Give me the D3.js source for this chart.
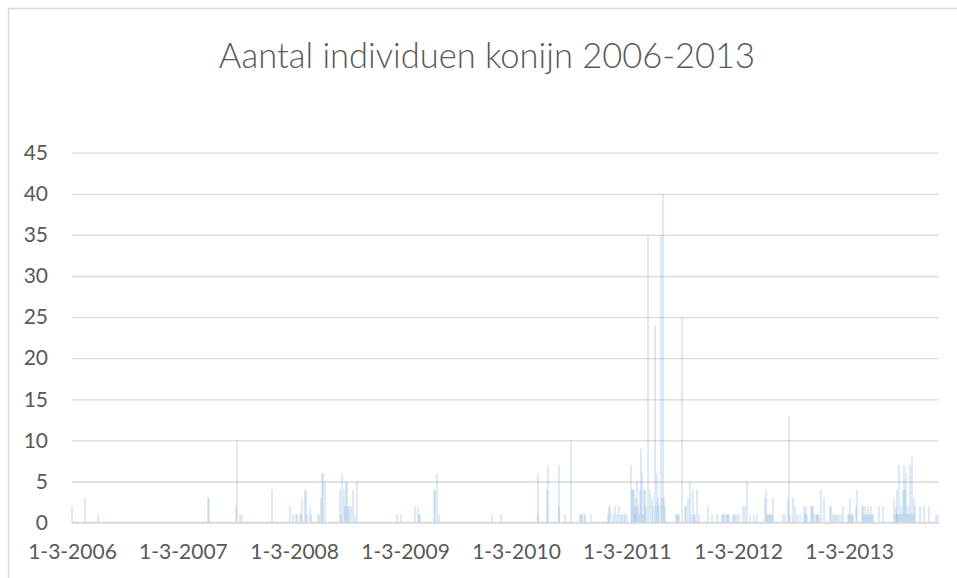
<!DOCTYPE html>
<html>
<head>
<meta charset="utf-8">
<script src="https://cdn.jsdelivr.net/npm/d3@7"></script>
<style>
  html, body { margin: 0; padding: 0; background: #ffffff; }
  svg { display: block; }
</style>
</head>
<body>
<svg id="chart" width="957" height="578"></svg>
<script>
const title = "Aantal individuen konijn 2006-2013";

// Observation dates (daily)
const dates = [
  "2006-03-01","2006-04-14","2006-05-25",
  "2007-05-24","2007-05-26","2007-08-24","2007-08-27","2007-09-06","2007-09-12","2007-12-20",
  "2008-02-15","2008-02-27","2008-03-06","2008-03-09","2008-03-19","2008-03-22","2008-03-28","2008-04-07","2008-04-10","2008-04-11",
  "2008-04-22","2008-04-26","2008-05-19","2008-05-22","2008-05-28","2008-06-01","2008-06-04","2008-06-11","2008-07-31","2008-08-02",
  "2008-08-07","2008-08-13","2008-08-14","2008-08-20","2008-08-23","2008-08-26","2008-08-30","2008-09-03","2008-09-12","2008-09-18","2008-09-25",
  "2009-02-01","2009-02-17","2009-04-03","2009-04-13","2009-04-17","2009-04-20","2009-06-05","2009-06-08","2009-06-15","2009-06-21","2009-12-13",
  "2010-01-11","2010-05-11","2010-05-14","2010-06-12","2010-06-15","2010-07-19","2010-07-20","2010-08-10","2010-08-30","2010-09-29",
  "2010-10-02","2010-10-05","2010-10-12","2010-10-15","2010-11-03","2010-12-29",
  "2011-01-02","2011-01-05","2011-01-15","2011-01-22","2011-01-28","2011-02-04","2011-02-10","2011-02-14","2011-02-20","2011-02-23",
  "2011-03-02","2011-03-15","2011-03-18","2011-03-22","2011-03-25","2011-03-26","2011-03-28","2011-04-01","2011-04-04","2011-04-07",
  "2011-04-11","2011-04-14","2011-04-17","2011-04-21","2011-04-24","2011-04-27","2011-05-01","2011-05-04","2011-05-10","2011-05-17",
  "2011-05-24","2011-05-27","2011-06-02","2011-06-06","2011-06-09","2011-06-12","2011-06-15","2011-06-22","2011-06-23","2011-06-29",
  "2011-07-02","2011-07-05","2011-08-10","2011-08-13","2011-08-16","2011-08-20","2011-08-30","2011-09-09","2011-09-12","2011-09-18",
  "2011-09-25","2011-09-28","2011-10-05","2011-10-08","2011-10-12","2011-10-18","2011-10-25","2011-11-23","2011-12-06","2011-12-23",
  "2012-01-08","2012-01-12","2012-01-15","2012-01-22","2012-01-25","2012-01-29","2012-02-01","2012-02-14","2012-02-17","2012-02-21",
  "2012-02-27","2012-03-05","2012-03-18","2012-03-25","2012-03-31","2012-04-10","2012-04-23","2012-05-03","2012-05-29","2012-06-02",
  "2012-06-05","2012-06-08","2012-06-11","2012-06-15","2012-06-18","2012-06-21","2012-06-24","2012-07-27","2012-08-03","2012-08-13",
  "2012-08-16","2012-08-20","2012-08-30","2012-09-05","2012-09-12","2012-09-22","2012-10-05","2012-10-08","2012-10-11","2012-10-14",
  "2012-10-28","2012-10-31","2012-11-03","2012-11-06","2012-11-13","2012-11-16","2012-11-20","2012-11-23","2012-11-30","2012-12-09","2012-12-29",
  "2013-01-01","2013-01-08","2013-01-11","2013-01-18","2013-01-21","2013-01-28","2013-02-03","2013-02-10","2013-02-26","2013-03-01",
  "2013-03-05","2013-03-08","2013-03-11","2013-03-15","2013-03-25","2013-03-28","2013-04-13","2013-04-17","2013-04-20","2013-04-23",
  "2013-04-27","2013-04-30","2013-05-03","2013-05-07","2013-05-10","2013-05-13","2013-05-16","2013-05-20","2013-06-08","2013-06-21",
  "2013-07-28","2013-07-31","2013-08-03","2013-08-05","2013-08-07","2013-08-10","2013-08-13","2013-08-16","2013-08-20","2013-08-23",
  "2013-08-27","2013-08-30","2013-09-02","2013-09-05","2013-09-08","2013-09-12","2013-09-15","2013-09-18","2013-09-22","2013-09-25",
  "2013-09-28","2013-10-02","2013-10-05","2013-10-21","2013-11-04","2013-11-20","2013-12-13","2013-12-20"
];

// Number of individuals per date
const counts = [
  2,3,1,
  3,3,2,10,1,1,4,
  2,1,1,1,1,1,3,4,4,1,
  2,1,1,1,3,6,6,5,4,1,
  6,4,2,5,5,2,2,2,4,1,5,
  1,1,2,2,1,1,4,4,6,1,1,
  1,6,1,4,7,7,2,1,10,1,
  1,1,1,1,1,1,
  2,2,1,2,1,2,1,1,1,1,
  1,7,4,4,4,2,1,3,5,2,
  1,4,9,6,1,4,4,2,35,4,
  3,2,24,2,6,3,2,35,3,40,
  3,2,1,1,1,1,25,2,2,3,
  5,1,4,1,1,4,1,2,1,1,
  1,1,1,1,1,1,1,1,1,1,
  1,1,2,2,5,1,1,1,3,4,
  1,1,1,1,1,1,3,1,1,3,
  13,1,3,2,1,1,2,1,2,1,
  2,2,2,1,1,1,1,1,4,3,2,
  2,1,1,1,1,1,1,2,1,1,
  3,1,1,1,2,4,2,2,1,2,
  1,1,2,1,1,2,1,1,2,2,
  3,1,2,1,4,1,7,1,2,1,
  4,7,4,6,1,2,1,7,1,8,
  1,3,2,2,2,2,1,1
];

const yTicks = [0, 5, 10, 15, 20, 25, 30, 35, 40, 45];
const xTickLabels = ["1-3-2006","1-3-2007","1-3-2008","1-3-2009","1-3-2010","1-3-2011","1-3-2012","1-3-2013"];
const axisStart = "2006-03-01";
const axisEnd = "2013-12-21";

const parse = d3.utcParse("%Y-%m-%d");
const parseLabel = d3.utcParse("%d-%m-%Y");
const fmt = d3.utcFormat("%-d-%-m-%Y");

const data = dates.map((d, i) => ({ date: parse(d), value: counts[i] }));

const svg = d3.select("#chart");
const textColor = "#595959";
const gridColor = "#d9d9d9";
const fontFamily = "Lato, 'Open Sans', sans-serif";

// chart frame
svg.append("rect")
  .attr("x", 8.5).attr("y", 8.5)
  .attr("width", 1000).attr("height", 1000)
  .attr("fill", "#ffffff")
  .attr("stroke", gridColor).attr("stroke-width", 1.5);

const plotLeft = 72, plotRight = 938.7, plotTop = 152.7, plotBottom = 522.6;

const x = d3.scaleUtc().domain([parse(axisStart), parse(axisEnd)]).range([plotLeft, plotRight]);
const y = d3.scaleLinear().domain([0, 45]).range([plotBottom, plotTop]);

// title
svg.append("text")
  .attr("x", 487).attr("y", 68)
  .attr("text-anchor", "middle")
  .attr("font-family", fontFamily)
  .attr("font-weight", 300)
  .attr("font-size", 34.5)
  .attr("fill", textColor)
  .text(title);

// y axis (gridlines + labels)
const yAxis = d3.axisLeft(y)
  .tickValues(yTicks)
  .tickSize(-(plotRight - plotLeft))
  .tickPadding(24)
  .tickFormat(d3.format("d"));

const gy = svg.append("g")
  .attr("transform", `translate(${plotLeft},0)`)
  .call(yAxis);
gy.select(".domain").remove();
gy.selectAll(".tick line").attr("stroke", gridColor).attr("stroke-width", 1.3);
gy.selectAll(".tick text")
  .attr("font-family", fontFamily)
  .attr("font-size", 21)
  .attr("fill", textColor);

// bars
svg.append("g")
  .selectAll("rect")
  .data(data)
  .join("rect")
  .attr("x", d => Math.round(x(d.date)) - 0.5)
  .attr("width", 1)
  .attr("y", d => y(d.value))
  .attr("height", d => y(0) - y(d.value))
  .attr("fill", "#5b9bd5")
  .attr("fill-opacity", 0.42);

// x axis
const xAxis = d3.axisBottom(x)
  .tickValues(xTickLabels.map(s => parseLabel(s)))
  .tickSize(0)
  .tickPadding(21)
  .tickFormat(fmt);

const gx = svg.append("g")
  .attr("transform", `translate(0,${plotBottom})`)
  .call(xAxis);
gx.select(".domain").attr("stroke", gridColor).attr("stroke-width", 1.5)
  .attr("d", `M${plotLeft},0H${plotRight}`);
gx.selectAll(".tick text")
  .attr("font-family", fontFamily)
  .attr("font-size", 21)
  .attr("fill", textColor);
</script>
</body>
</html>
